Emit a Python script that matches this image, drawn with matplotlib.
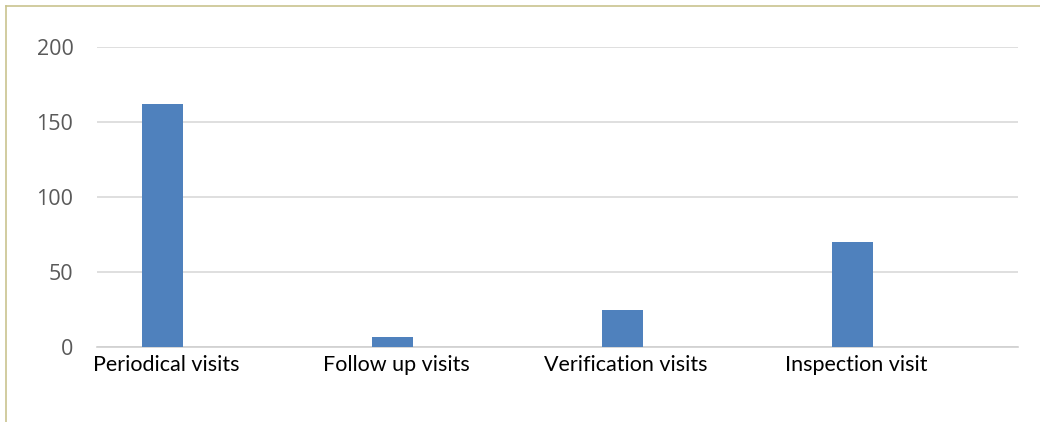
import matplotlib
matplotlib.use("Agg")
import matplotlib.pyplot as plt
from matplotlib.lines import Line2D

categories = ['Periodical visits', 'Follow up visits', 'Verification visits', 'Inspection visit']
visits = [162, 6.5, 25, 70]
y_ticks = [0, 50, 100, 150, 200]

fig = plt.figure(figsize=(10.4, 4.22), dpi=100)
ax = fig.add_axes([97 / 1040, 75 / 422, 921 / 1040, 300 / 422])

x = list(range(len(categories)))
ax.bar(x, visits, width=0.178, color='#4f81bd', zorder=3)

ax.set_xlim(-0.285, 3.72)
ax.set_ylim(0, 200)
ax.set_yticks(y_ticks)
ax.set_xticks([i + 0.015 for i in x])
ax.set_xticklabels(categories, fontsize=15.5, family=['Lato', 'DejaVu Sans'], color='black')
ax.tick_params(axis='y', labelsize=15.5, labelcolor='#595959', length=0, pad=17)
ax.tick_params(axis='x', length=0, pad=6)
for lbl in ax.get_yticklabels():
    lbl.set_family(['Open Sans', 'DejaVu Sans'])

ax.grid(axis='y', color='#d9d9d9', linewidth=1.2, zorder=0)
for side in ['top', 'right', 'left']:
    ax.spines[side].set_visible(False)
ax.spines['bottom'].set_color('#d0d0d0')
ax.spines['bottom'].set_linewidth(1.2)

# outer frame (left and top only, as in the source)
fig.add_artist(Line2D([6 / 1040, 6 / 1040], [0, 1 - 6 / 422], color='#c9c48f', linewidth=1.2))
fig.add_artist(Line2D([6 / 1040, 1], [1 - 6 / 422, 1 - 6 / 422], color='#c9c48f', linewidth=1.2))

fig.savefig('out.png', dpi=100)
